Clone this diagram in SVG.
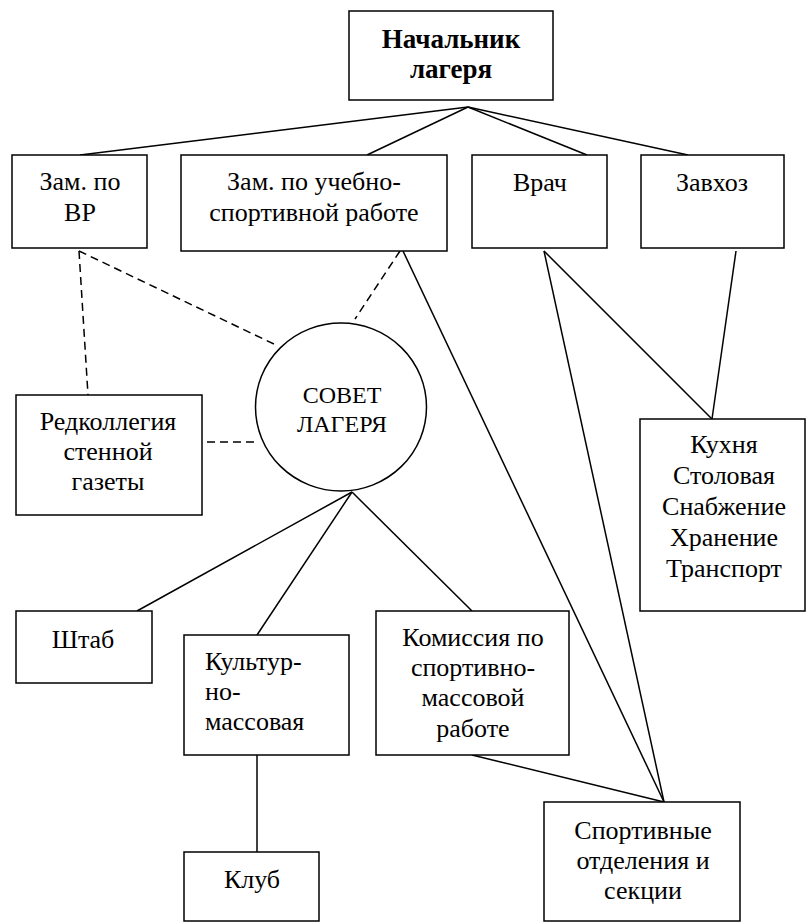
<svg xmlns="http://www.w3.org/2000/svg" width="807" height="923" viewBox="0 0 807 923">
<style>
.box{fill:#fff;stroke:#000;stroke-width:1.5}
.ln{stroke:#000;stroke-width:1.5;fill:none}
.ds{stroke:#000;stroke-width:1.5;fill:none;stroke-dasharray:8 5}
text{font-family:'Liberation Serif',Tinos,'Times New Roman',Times,'Nimbus Roman','Nimbus Roman No9 L','FreeSerif','Noto Serif','DejaVu Serif',serif;font-size:26px;fill:#000;text-anchor:middle}
.b{font-weight:bold;font-size:27px}
.s{font-size:24px}
.l{text-anchor:start}
</style>
<rect width="807" height="923" fill="#fff"/>
<g id="connectors">
<line class="ln" x1="468" y1="107" x2="80" y2="155"/>
<line class="ln" x1="468" y1="107" x2="367" y2="155"/>
<line class="ln" x1="468" y1="107" x2="587" y2="155"/>
<line class="ln" x1="468" y1="107" x2="688" y2="155"/>
<line class="ln" x1="403" y1="251" x2="664" y2="802"/>
<line class="ln" x1="544" y1="251" x2="664" y2="802"/>
<line class="ln" x1="544" y1="251" x2="712" y2="419"/>
<line class="ln" x1="736" y1="251" x2="712" y2="419"/>
<line class="ln" x1="352" y1="492" x2="137" y2="611"/>
<line class="ln" x1="352" y1="492" x2="257" y2="635"/>
<line class="ln" x1="352" y1="492" x2="472" y2="611"/>
<line class="ln" x1="472" y1="755" x2="664" y2="802"/>
<line class="ln" x1="257" y1="755" x2="257" y2="852"/>
<line class="ds" x1="79" y1="251" x2="88" y2="395"/>
<line class="ds" x1="79" y1="251" x2="276" y2="345"/>
<line class="ds" x1="207" y1="442" x2="258" y2="442"/>
<line class="ds" x1="400" y1="251" x2="355" y2="319"/>
</g>
<g id="nachalnik"><rect class="box" x="349" y="11" width="204" height="89"/><text class="b" x="451" y="48">Начальник</text><text class="b" x="451" y="78">лагеря</text></g>
<g id="zam-vr"><rect class="box" x="12" y="155" width="135" height="93"/><text x="80" y="190">Зам. по</text><text x="80" y="221">ВР</text></g>
<g id="zam-uch"><rect class="box" x="181" y="155" width="266" height="96"/><text x="314" y="190">Зам. по учебно-</text><text x="314" y="221">спортивной работе</text></g>
<g id="vrach"><rect class="box" x="472" y="155" width="135" height="93"/><text x="540" y="191">Врач</text></g>
<g id="zavkhoz"><rect class="box" x="641" y="155" width="143" height="93"/><text x="712" y="191">Завхоз</text></g>
<g id="redkol"><rect class="box" x="16" y="395" width="186" height="120"/><text x="108" y="430">Редколлегия</text><text x="108" y="460">стенной</text><text x="108" y="490">газеты</text></g>
<g id="sovet"><ellipse class="box" cx="341" cy="407" rx="85.5" ry="84"/><text class="s" x="342" y="403">СОВЕТ</text><text class="s" x="342" y="432">ЛАГЕРЯ</text></g>
<g id="kukhnya"><rect class="box" x="640" y="419" width="165" height="192"/><text x="724" y="453">Кухня</text><text x="724" y="484">Столовая</text><text x="724" y="515">Снабжение</text><text x="724" y="546">Хранение</text><text x="724" y="577">Транспорт</text></g>
<g id="shtab"><rect class="box" x="16" y="611" width="136" height="72"/><text x="83" y="648">Штаб</text></g>
<g id="kultur"><rect class="box" x="184" y="635" width="165" height="120"/><text class="l" x="205" y="670">Культур-</text><text class="l" x="205" y="700">но-</text><text class="l" x="205" y="730">массовая</text></g>
<g id="komissia"><rect class="box" x="376" y="611" width="193" height="144"/><text x="473" y="646">Комиссия по</text><text x="473" y="676">спортивно-</text><text x="473" y="706">массовой</text><text x="473" y="737">работе</text></g>
<g id="sport"><rect class="box" x="544" y="802" width="196" height="119"/><text x="643" y="839">Спортивные</text><text x="643" y="869">отделения и</text><text x="643" y="899">секции</text></g>
<g id="klub"><rect class="box" x="184" y="852" width="135" height="69"/><text x="252" y="888">Клуб</text></g>
</svg>
